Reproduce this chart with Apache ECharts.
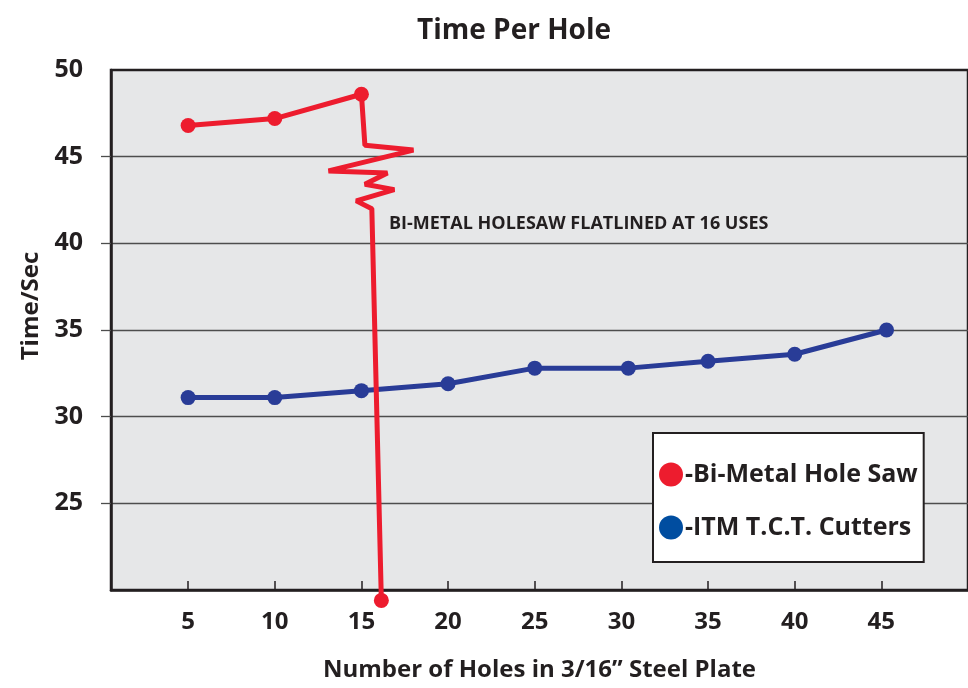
<!DOCTYPE html>
<html>
<head>
<meta charset="utf-8">
<script src="https://cdn.jsdelivr.net/npm/echarts@6/dist/echarts.min.js"></script>
<style>
html,body{margin:0;padding:0;background:#fff;}
#chart{width:968px;height:688px;}
</style>
</head>
<body>
<div id="chart"></div>
<script>
// ---- data ----
const xTicks = [5, 10, 15, 20, 25, 30, 35, 40, 45];
const yTicks = [25, 30, 35, 40, 45];
const seriesNames = ['-Bi-Metal Hole Saw', '-ITM T.C.T. Cutters'];
// Bi-metal hole saw measured points
const bimetalX = [5, 10, 15];
const bimetalY = [46.8, 47.2, 48.6];
// "broken" zigzag segment after the last measurement
const breakX = [15.2, 18.0, 13.1, 16.5, 15.2, 16.9, 14.7, 15.6];
const breakY = [45.66, 45.38, 44.18, 44.06, 43.41, 43.1, 42.45, 42.0];
// failure point (flatlined at 16 uses)
const failX = [16.15];
const failY = [19.4];
// ITM T.C.T. cutters
const itmX = [5, 10, 15, 20, 25, 30.4, 35, 40, 45.3];
const itmY = [31.1, 31.1, 31.5, 31.9, 32.8, 32.8, 33.2, 33.6, 35.0];
const annotationText = 'BI-METAL HOLESAW FLATLINED AT 16 USES';

// ---- build ----
const RED = '#ed1c2e', BLUE = '#293c97', LEG_BLUE = '#004da0', INK = '#231f20';
const FONT = 'Open Sans';
const redData = [];
bimetalX.forEach((x, i) => redData.push([x, bimetalY[i]]));
breakX.forEach((x, i) => redData.push({ value: [x, breakY[i]], symbol: 'none' }));
failX.forEach((x, i) => redData.push([x, failY[i]]));
const blueData = itmX.map((x, i) => [x, itmY[i]]);

const chart = echarts.init(document.getElementById('chart'), null, { renderer: 'canvas' });
chart.setOption({
  animation: false,
  backgroundColor: '#ffffff',
  textStyle: { fontFamily: FONT },
  grid: {
    show: true, left: 111, top: 70, right: 0, bottom: 98,
    backgroundColor: '#e6e7e8', borderColor: INK, borderWidth: 2.5
  },
  legend: {
    orient: 'vertical', left: 653, top: 433,
    backgroundColor: '#ffffff', borderColor: INK, borderWidth: 2,
    borderRadius: 0,
    padding: [29, 6, 22, 6],
    itemGap: 28, itemWidth: 24, itemHeight: 24, icon: 'circle',
    textStyle: { fontFamily: FONT, fontSize: 25, fontWeight: 'bold', color: INK, padding: [0, 0, 0, -3] },
    data: [
      { name: seriesNames[0], itemStyle: { color: RED } },
      { name: seriesNames[1], itemStyle: { color: LEG_BLUE } }
    ]
  },
  xAxis: {
    type: 'value', min: 0.55, max: 50,
    axisLine: { show: true, onZero: false, lineStyle: { color: INK, width: 2.5 } },
    axisTick: { show: true, inside: true, length: 9, customValues: xTicks, lineStyle: { color: INK, width: 1.5 } },
    axisLabel: { customValues: xTicks, fontFamily: FONT, fontSize: 24, fontWeight: 'bold', color: INK, margin: 20 },
    splitLine: { show: false },
    name: 'Number of Holes in 3/16\u201D Steel Plate',
    nameLocation: 'middle', nameGap: 68,
    nameTextStyle: { fontFamily: FONT, fontSize: 24, fontWeight: 'bold', color: INK }
  },
  yAxis: {
    type: 'value', min: 20, max: 50, interval: 5,
    axisLine: { show: true, lineStyle: { color: INK, width: 2.5 } },
    axisTick: { show: true, length: 10, customValues: yTicks, lineStyle: { color: '#4d4d4d', width: 1.3 } },
    axisLabel: { showMinLabel: false, fontFamily: FONT, fontSize: 25, fontWeight: 'bold', color: INK, margin: 28 },
    splitLine: { show: true, lineStyle: { color: '#4d4d4d', width: 1.3 } }
  },
  graphic: [
    { type: 'text', x: 514, y: 31, style: { text: 'Time Per Hole', fontFamily: FONT, fontSize: 28, fontWeight: 'bold', fill: INK, align: 'center', verticalAlign: 'middle' } },
    { type: 'text', x: 31, y: 306, rotation: Math.PI / 2, style: { text: 'Time/Sec', fontFamily: FONT, fontSize: 24, fontWeight: 'bold', fill: INK, align: 'center', verticalAlign: 'middle' } },
    { type: 'text', x: 389, y: 224, style: { text: annotationText, fontFamily: FONT, fontSize: 18, fontWeight: 'bold', fill: INK, align: 'left', verticalAlign: 'middle' } }
  ],
  series: [
    {
      name: seriesNames[0], type: 'line', data: redData, clip: false,
      symbol: 'circle', symbolSize: 15, showSymbol: true,
      lineStyle: { color: RED, width: 5 }, itemStyle: { color: RED },
      z: 3
    },
    {
      name: seriesNames[1], type: 'line', data: blueData,
      symbol: 'circle', symbolSize: 15,
      lineStyle: { color: BLUE, width: 5 }, itemStyle: { color: BLUE },
      z: 2
    }
  ]
});
</script>
</body>
</html>
